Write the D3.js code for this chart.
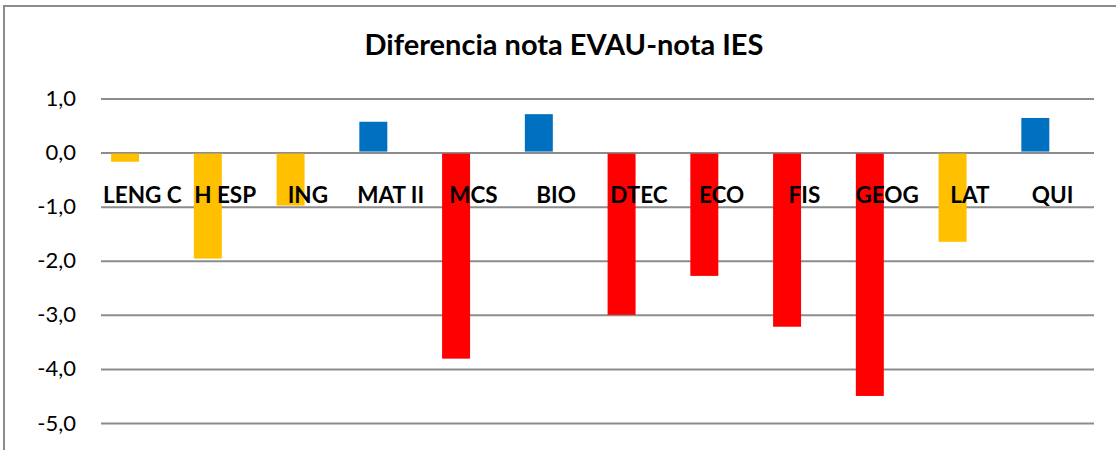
<!DOCTYPE html>
<html>
<head>
<meta charset="utf-8">
<script src="https://cdn.jsdelivr.net/npm/d3@7"></script>
<style>
  html, body { margin: 0; padding: 0; background: #fff; }
  svg { display: block; }
</style>
</head>
<body>
<svg id="chart" width="1116" height="450"></svg>
<script>
// Diferencia entre la nota EVAU y la nota del IES por asignatura
const categories = ["LENG C", "H ESP", "ING", "MAT II", "MCS", "BIO", "DTEC", "ECO", "FIS", "GEOG", "LAT", "QUI"];
const values     = [-0.17, -1.96, -0.98, 0.57, -3.81, 0.71, -3.00, -2.28, -3.22, -4.50, -1.65, 0.64];
// Grupo de cada asignatura (define el color de la barra)
const groups     = ["comun", "comun", "comun", "ciencias", "sociales", "ciencias", "sociales", "sociales", "sociales", "sociales", "comun", "ciencias"];
const yTicks     = [1, 0, -1, -2, -3, -4, -5];
const title      = "Diferencia nota EVAU-nota IES";

const groupColors = { comun: "#FFC000", ciencias: "#0070C0", sociales: "#FF0000" };

const svg = d3.select("#chart");
const plot = { left: 101, right: 1094, top: 98.5, bottom: 423 };

const es = d3.formatLocale({ decimal: ",", thousands: ".", grouping: [3], currency: ["", " €"], minus: "-" });
const fmt = es.format(".1f");

const x = d3.scaleBand().domain(categories).range([plot.left, plot.right]).padding(0);
const y = d3.scaleLinear().domain([-5, 1]).range([plot.bottom, plot.top]);

// Marco del gráfico
svg.append("rect")
  .attr("x", 4).attr("y", 6)
  .attr("width", 1130).attr("height", 470)
  .attr("fill", "none")
  .attr("stroke", "#8c8c8c")
  .attr("stroke-width", 2);

// Título
svg.append("text")
  .attr("x", 564).attr("y", 55)
  .attr("text-anchor", "middle")
  .attr("font-family", "Lato, 'Open Sans', sans-serif")
  .attr("font-weight", "bold")
  .attr("font-size", 29)
  .attr("fill", "#000")
  .text(title);

// Eje Y con líneas de cuadrícula
const yAxis = svg.append("g")
  .attr("transform", `translate(${plot.left},0)`)
  .call(d3.axisLeft(y).tickValues(yTicks).tickFormat(fmt)
    .tickSizeInner(-(plot.right - plot.left)).tickSizeOuter(0).tickPadding(25));
yAxis.select(".domain").remove();
yAxis.selectAll(".tick line").attr("stroke", "#8c8c8c").attr("stroke-width", 2);
yAxis.selectAll(".tick text")
  .attr("font-family", "Lato, 'Open Sans', sans-serif")
  .attr("font-size", 22)
  .attr("fill", "#000");

// Barras
const bw = x.bandwidth();
svg.append("g").selectAll("rect")
  .data(categories.map((c, i) => ({ c, v: values[i], g: groups[i] })))
  .join("rect")
  .attr("x", d => x(d.c) + bw * 0.122)
  .attr("width", bw * 0.338)
  .attr("y", d => d.v >= 0 ? y(d.v) : y(0) + 1)
  .attr("height", d => d.v >= 0 ? y(0) - 1 - y(d.v) : y(d.v) - y(0) - 1)
  .attr("fill", d => groupColors[d.g]);

// Etiquetas de categoría
const xAxis = svg.append("g")
  .attr("transform", `translate(0,${y(0)})`)
  .call(d3.axisBottom(x).tickSize(0));
xAxis.select(".domain").remove();
xAxis.selectAll(".tick text")
  .attr("y", 50.5)
  .attr("dy", 0)
  .attr("font-family", "Lato, 'Open Sans', sans-serif")
  .attr("font-weight", "bold")
  .attr("font-size", 22.5)
  .attr("fill", "#000");
</script>
</body>
</html>
